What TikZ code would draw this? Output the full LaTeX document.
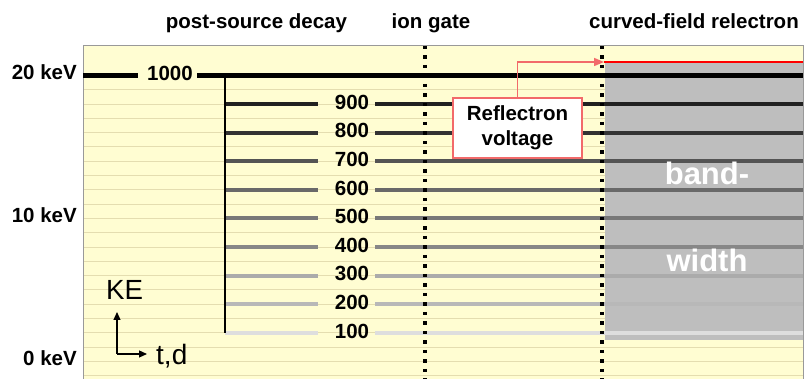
\documentclass[tikz,border=0pt]{standalone}
\usepackage{fontspec}
\setmainfont{Liberation Sans}
\usetikzlibrary{arrows.meta,positioning}
\definecolor{paper}{HTML}{FFFDD2}
\definecolor{rule}{HTML}{E4DDB0}
\definecolor{band}{HTML}{BEBEBE}
\definecolor{rvred}{HTML}{F26A6A}
\tikzset{
	lbl/.style = {font=\bfseries\fontsize{20.5}{22}\selectfont, inner sep=0pt},
	lvl/.style = {line width=4pt},
	gate/.style = {line width=3.5pt, dash pattern=on 3.5pt off 6pt},
	bandtext/.style = {white, font=\bfseries\fontsize{31}{33}\selectfont, inner sep=0pt, anchor=base}
}

\begin{document}
\begin{tikzpicture}[x=1pt,y=1pt,>={Triangle[length=8pt,width=7pt]}]
\useasboundingbox (0,0) rectangle (806,379);
\fill[paper] (83,0) rectangle (803,333);
\foreach \j in {1,...,21}
	\draw[rule, line width=1pt] (83,303.5-14.3*\j) -- (803,303.5-14.3*\j);
\fill[band] (605,39) rectangle (803,317);
\draw[gray!80, line width=1pt] (83,0) |- (803,333) -- (803,0);

\node[lbl, anchor=base] (l10) at (170,298) {1000};
\coordinate (s10) at (83,303.5);
\coordinate (e10) at (803,303.5);
\draw[lvl, line width=4.5pt] (s10) -- ([xshift=-9pt]l10.west |- s10);
\draw[lvl, line width=4.5pt] ([xshift=4pt]l10.east |- s10) -- (e10);
\foreach \k/\c in {9/black!87,8/black!80,7/black!67,6/black!59,5/black!53,4/black!47,3/black!33,2/black!28,1/black!13}{
	\pgfmathsetmacro\yy{303.5-28.6*(10-\k)}
	\coordinate (s\k) at (225,\yy);
	\coordinate (e\k) at (803,\yy);
	\node[lbl, anchor=base] (l\k) at (352,\yy-5.2) {\k00};
	\draw[lvl,\c] (s\k) -- ([xshift=-17pt]l\k.west |- s\k);
	\draw[lvl,\c] ([xshift=6pt]l\k.east |- s\k) -- (e\k);
}
\coordinate (top) at (225,303.5);
\draw[line width=2pt] (top) -- (s1);

\coordinate (g1t) at (425,333);
\coordinate (g1b) at (425,0);
\coordinate (g2t) at (602,333);
\coordinate (g2b) at (602,0);

\node[draw=rvred, fill=white, line width=1.5pt, minimum width=129pt, minimum height=60pt,
	align=center, lbl, font=\bfseries\fontsize{20.5}{24.7}\selectfont] (rv) at (517.5,251) {Reflectron\\voltage};
\coordinate (rt) at (604,317);
\coordinate (re) at (803,317);
\draw[rvred, line width=1.5pt, ->, >={Triangle[length=10pt,width=8pt]}] (rv.north) |- (rt);
\draw[red, line width=2.5pt] (rt) -- (re);
\draw[gate] (g1t) -- (g1b);
\draw[gate] (g2t) -- (g2b);

\node[lbl, anchor=base] (psd) at (256.5,350) {post-source decay};
\node[lbl, anchor=base] (ig) at (431,350) {ion gate};
\node[lbl, anchor=base] (cfr) at (694,350) {curved-field relectron};

\node[lbl, anchor=base east] (k20) at (77,299.7) {20 keV};
\node[lbl, anchor=base east] (k10) at (77,156.7) {10 keV};
\node[lbl, anchor=base east] (k0) at (77,13.3) {0 keV};

\node[bandtext] (bw1) at (707,194) {band-};
\node[bandtext] (bw2) at (707,107.3) {width};

\node[inner sep=0pt, anchor=base west, font=\fontsize{27.7}{30}\selectfont] (ke) at (106,79.7) {KE};
\node[inner sep=0pt, anchor=base west, font=\fontsize{28}{30}\selectfont] (td) at (156,14.7) {t,d};
\coordinate (o) at (117,25);
\coordinate (oy) at (117,67);
\coordinate (ox) at (147,25);
\draw[->, line width=1.2pt] (o) -- (oy);
\draw[->, line width=1.2pt] (o) -- (ox);
\end{tikzpicture}
\end{document}
